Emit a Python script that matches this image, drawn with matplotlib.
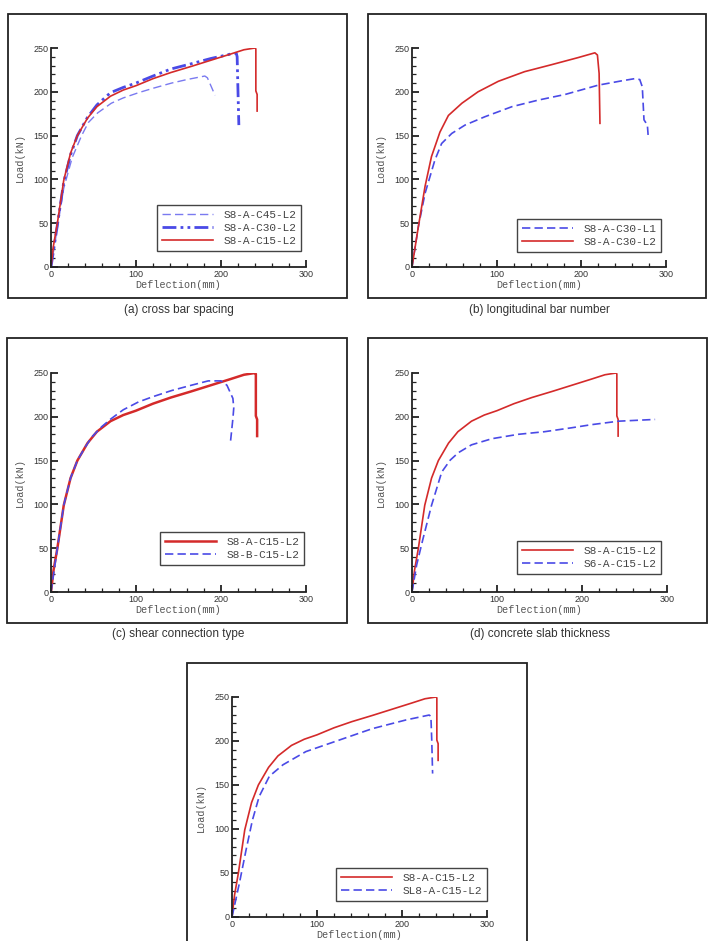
import matplotlib.pyplot as plt
from matplotlib.patches import Rectangle
from matplotlib.ticker import MultipleLocator

# S8-A-C15-L2, the reference specimen shown in every panel
red_x = [0, 3, 7.5, 15, 23, 31, 43, 54, 70, 85, 100, 120, 141, 165, 188, 211, 227, 240, 241, 241, 242.5, 242.5]
red_y = [0, 25, 50, 99, 130, 150, 170, 183, 195, 202, 207, 215, 222, 229, 236, 243, 248, 250, 249, 201, 197, 178]

# (a) cross bar spacing
c45_x = [0, 7.5, 15, 25, 36, 44, 55, 71, 85, 103, 120, 142, 160, 181, 184, 193]
c45_y = [0, 45, 90, 125, 150, 165, 176, 187, 193, 199, 204, 210, 214, 218, 216, 196]
c30_x = [0, 7.5, 15, 23, 31, 43, 54, 70, 85, 100, 120, 141, 165, 188, 211, 218, 219, 220, 221]
c30_y = [0, 48, 97, 128, 150, 171, 185, 199, 205, 210, 218, 226, 232, 238, 243, 244, 240, 200, 162]

# (b) longitudinal bar number
b_l2_x = [0, 7.5, 15.4, 23, 33, 43, 59, 78, 102, 133, 165, 196, 216, 219, 221, 222]
b_l2_y = [0, 46, 92, 126, 154, 173, 187, 200, 212, 223, 231, 239, 244.5, 242, 221, 164]
b_l1_x = [0, 7.5, 15.4, 27, 35, 47, 62.6, 86, 118, 149, 181, 220, 247.6, 263, 269, 272, 274, 278, 279]
b_l1_y = [0, 46, 84, 122, 141, 152.5, 162, 171.5, 183, 190.5, 197, 207.6, 212.5, 215, 214, 205.7, 168, 162, 149]

# (c) shear connection type
sb_x = [0, 7.5, 15, 23, 31, 40, 48, 60, 71, 85, 103, 120, 142, 165, 185, 200, 207, 214, 215, 214, 211]
sb_y = [0, 50, 99, 130, 150, 165, 177, 189, 198, 208, 217, 223, 230, 236, 241, 241, 236, 221, 210, 198, 170]

# (d) concrete slab thickness
s6_x = [0, 5.5, 13, 23, 35, 45, 54.5, 70, 94, 125, 156, 188, 211, 243, 286]
s6_y = [0, 31, 61, 99, 137, 150.6, 159, 168, 175, 180, 183, 187.5, 191, 195, 197]

# (e)
sl8_x = [0, 8.6, 16.5, 24, 32, 44, 60, 87, 126, 165, 205, 232, 234, 235, 236]
sl8_y = [0, 38, 76, 110, 137, 160, 173, 188, 201, 214, 224, 229.5, 228, 201, 163]

RED = "#d42a2a"
BLUE = "#4a4ae6"
LBLUE = "#7a7af0"
MONO = "Liberation Mono"
SANS = "Liberation Sans"

W, H = 713, 941
fig = plt.figure(figsize=(W / 100, H / 100), dpi=100)


def frame(x0, y0, x1, y1):
    fig.add_artist(Rectangle((x0 / W, 1 - y1 / H), (x1 - x0) / W, (y1 - y0) / H,
                             transform=fig.transFigure, fill=False,
                             edgecolor="#222222", linewidth=1.3))


def panel(x0, x1, ytop, ybot, leg_xy, caption=None, cap_y=None):
    ax = fig.add_axes([x0 / W, 1 - ybot / H, (x1 - x0) / W, (ybot - ytop) / H])
    ax.set_xlim(0, 300)
    ax.set_ylim(0, 250)
    ax.spines["top"].set_visible(False)
    ax.spines["right"].set_visible(False)
    for s in ("left", "bottom"):
        ax.spines[s].set_linewidth(1.3)
        ax.spines[s].set_color("#222222")
    ax.xaxis.set_major_locator(MultipleLocator(100))
    ax.xaxis.set_minor_locator(MultipleLocator(20))
    ax.yaxis.set_major_locator(MultipleLocator(50))
    ax.yaxis.set_minor_locator(MultipleLocator(10))
    ax.tick_params(which="major", direction="in", length=5, width=1.3, color="#222222",
                   labelsize=6.5, labelcolor="#333333", pad=2)
    ax.tick_params(which="minor", direction="in", length=3, width=0.9, color="#222222")
    for lab in ax.get_xticklabels() + ax.get_yticklabels():
        lab.set_family(SANS)
    ax.set_xlabel("Deflection(mm)", family=MONO, fontsize=7.3, color="#555555", labelpad=1)
    ax.set_ylabel("Load(kN)", family=MONO, fontsize=7.3, color="#555555", labelpad=6)
    ax.set_facecolor("none")
    if caption:
        fig.text((x0 + x1) / 2 / W - 0.0, 1 - cap_y / H, caption, family=SANS,
                 fontsize=8.5, color="#333333", ha="center", va="center")
    ax._leg_xy = leg_xy
    return ax


def legend(ax, box):
    x0, y0, x1, y1 = box
    leg = ax.legend(loc="upper left", bbox_to_anchor=(x0 / W, 1 - y0 / H), bbox_transform=fig.transFigure,
                    borderaxespad=0, prop={"family": MONO, "size": 8}, handlelength=4.6,
                    handletextpad=0.9, labelspacing=0.25, borderpad=0.45, fancybox=False,
                    framealpha=1, edgecolor="#444444", labelcolor="#444444")
    leg.get_frame().set_linewidth(1.0)
    return leg


# (a)
frame(8, 14, 347, 298)
ax = panel(51, 306, 48, 267, None, "(a) cross bar spacing", 310)
ax.plot(c45_x, c45_y, color=LBLUE, lw=1.0, ls=(0, (6, 3)), label="S8-A-C45-L2")
ax.plot(c30_x, c30_y, color=BLUE, lw=2.0, ls=(0, (5, 1.5, 1, 1.5, 1, 1.5)), label="S8-A-C30-L2")
ax.plot(red_x, red_y, color=RED, lw=1.2, label="S8-A-C15-L2")
legend(ax, (157, 205, 300, 255))

# (b)
frame(368, 14, 706, 298)
ax = panel(412, 666, 48, 267, None, "(b) longitudinal bar number", 310)
ax.plot(b_l1_x, b_l1_y, color=BLUE, lw=1.2, ls=(0, (5, 2.5)), label="S8-A-C30-L1")
ax.plot(b_l2_x, b_l2_y, color=RED, lw=1.2, label="S8-A-C30-L2")
legend(ax, (517, 219, 660, 256))

# (c)
frame(7, 338, 347, 623)
ax = panel(51, 306, 373, 592, None, "(c) shear connection type", 634)
ax.plot(red_x, red_y, color=RED, lw=1.8, label="S8-A-C15-L2")
ax.plot(sb_x, sb_y, color=BLUE, lw=1.2, ls=(0, (5, 2.5)), label="S8-B-C15-L2")
legend(ax, (160, 532, 303, 568))

# (d)
frame(368, 338, 707, 623)
ax = panel(412, 667, 373, 592, None, "(d) concrete slab thickness", 634)
ax.plot(red_x, red_y, color=RED, lw=1.2, label="S8-A-C15-L2")
ax.plot(s6_x, s6_y, color=BLUE, lw=1.2, ls=(0, (5, 2.5)), label="S6-A-C15-L2")
legend(ax, (517, 541, 661, 578))

# (e)
frame(187, 663, 527, 945)
ax = panel(232, 487, 697, 917, None)
ax.plot(red_x, red_y, color=RED, lw=1.2, label="S8-A-C15-L2")
ax.plot(sl8_x, sl8_y, color=BLUE, lw=1.2, ls=(0, (5, 2.5)), label="SL8-A-C15-L2")
legend(ax, (336, 868, 487, 904))

fig.savefig("out.png", dpi=100)
